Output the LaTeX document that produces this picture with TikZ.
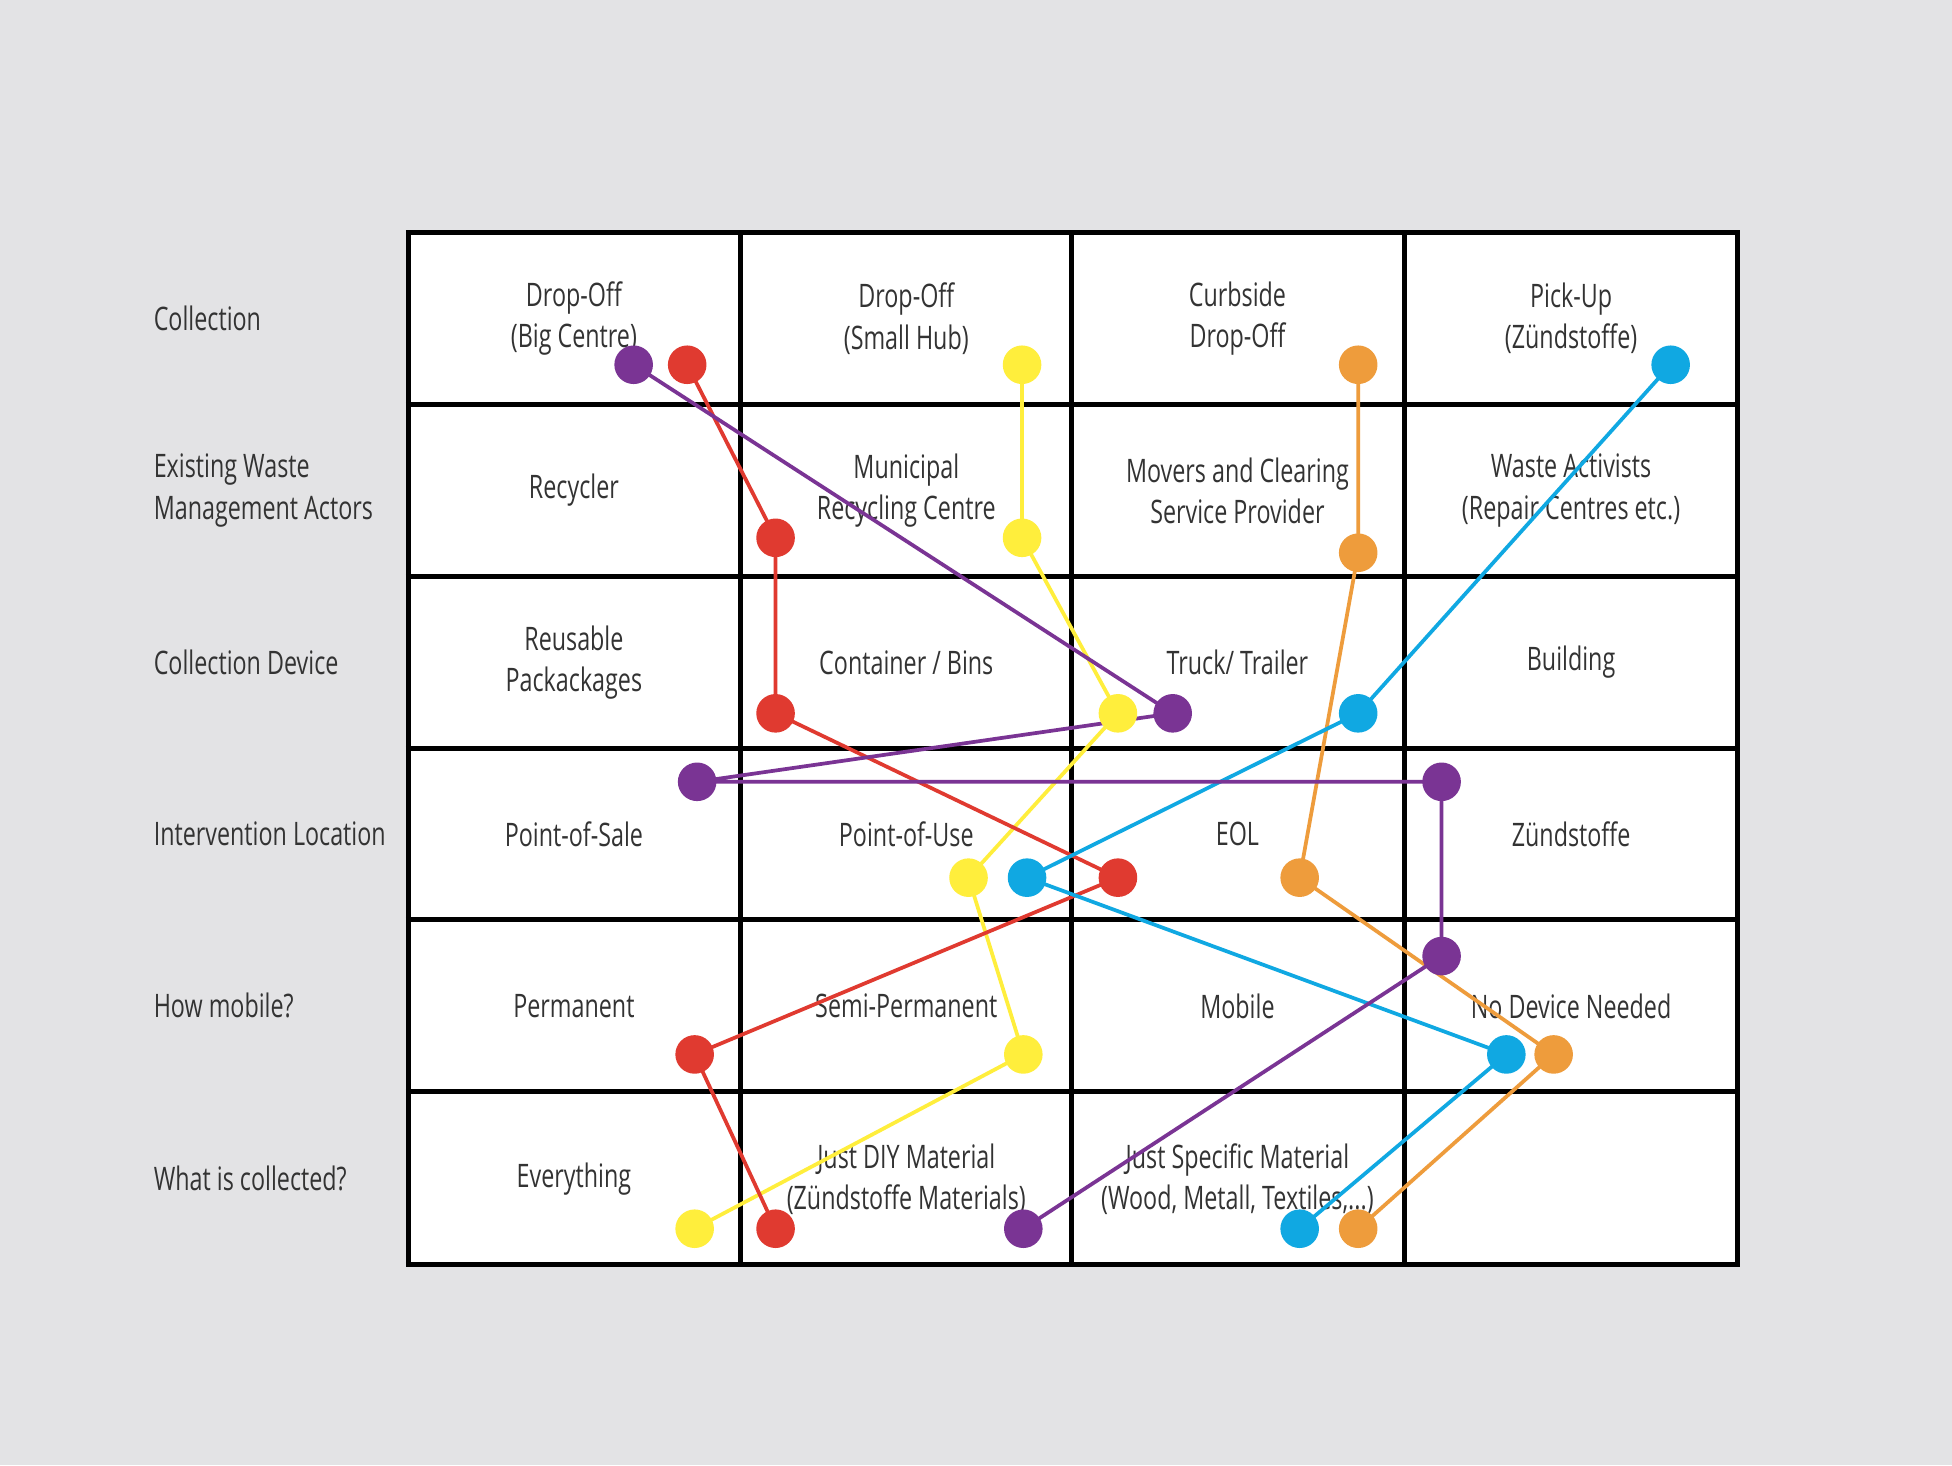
\documentclass[tikz,border=0pt]{standalone}
\usepackage{fontspec}
\setmainfont{Open Sans}[FakeStretch=0.72]
\begin{document}
\begin{tikzpicture}[x=1pt,y=-1pt,
  lbl/.style={font=\fontsize{26}{33}\selectfont, text=black!80, align=center},
  row/.style={lbl, anchor=west, align=left},
  dot/.style={circle, fill=#1, minimum size=31pt, inner sep=0pt},
  con/.style={draw=#1, line width=3pt}]
\definecolor{bg}{HTML}{E3E3E5}
\definecolor{cr}{HTML}{E03A30}
\definecolor{cy}{HTML}{FFEE3C}
\definecolor{co}{HTML}{EE9C3C}
\definecolor{cb}{HTML}{10A8E2}
\definecolor{cp}{HTML}{7A3494}
\fill[bg] (0,0) rectangle (1568,1177);
\useasboundingbox (0,0) rectangle (1568,1177);
\fill[white] (328,187) rectangle (1396,1016);
\foreach \x in {328,595,861,1128,1396} \draw[line width=4pt] (\x,187) -- (\x,1016);
\foreach \y in {187,325,463,601,739,877,1016} \draw[line width=4pt] (326,\y) -- (1398,\y);
% row labels
\node[row] (l1) at (120,256) {Collection};
\node[row] (l2) at (120,394) {Existing Waste\\Management Actors};
\node[row] (l3) at (120,532) {Collection Device};
\node[row] (l4) at (120,670) {Intervention Location};
\node[row] (l5) at (120,808) {How mobile?};
\node[row] (l6) at (120,947) {What is collected?};
% cells
\node[lbl] (a1) at (461,256) {Drop-Off\\(Big Centre)};
\node[lbl] (a2) at (728,256) {Drop-Off\\(Small Hub)};
\node[lbl] (a3) at (994,256) {Curbside\\Drop-Off};
\node[lbl] (a4) at (1262,256) {Pick-Up\\(Zündstoffe)};
\node[lbl] (b1) at (461,394) {Recycler};
\node[lbl] (b2) at (728,394) {Municipal\\Recycling Centre};
\node[lbl] (b3) at (994,394) {Movers and Clearing\\Service Provider};
\node[lbl] (b4) at (1262,394) {Waste Activists\\(Repair Centres etc.)};
\node[lbl] (c1) at (461,532) {Reusable\\Packackages};
\node[lbl] (c2) at (728,532) {Container / Bins};
\node[lbl] (c3) at (994,532) {Truck/ Trailer};
\node[lbl] (c4) at (1262,532) {Building};
\node[lbl] (d1) at (461,670) {Point-of-Sale};
\node[lbl] (d2) at (728,670) {Point-of-Use};
\node[lbl] (d3) at (994,670) {EOL};
\node[lbl] (d4) at (1262,670) {Zündstoffe};
\node[lbl] (e1) at (461,808) {Permanent};
\node[lbl] (e2) at (728,808) {Semi-Permanent};
\node[lbl] (e3) at (994,808) {Mobile};
\node[lbl] (e4) at (1262,808) {No Device Needed};
\node[lbl] (f1) at (461,947) {Everything};
\node[lbl] (f2) at (728,947) {Just DIY Material\\(Zündstoffe Materials)};
\node[lbl] (f3) at (994,947) {Just Specific Material\\(Wood, Metall, Textiles,...)};
% coordinates of dots
\coordinate (p1) at (509,293); \coordinate (p2) at (942,573); \coordinate (p3) at (560,628);
\coordinate (p4) at (1158,628); \coordinate (p5) at (1158,768); \coordinate (p6) at (822,987);
\coordinate (r1) at (552,293); \coordinate (r2) at (623,432); \coordinate (r3) at (623,573);
\coordinate (r4) at (898,705); \coordinate (r5) at (558,847); \coordinate (r6) at (623,987);
\coordinate (y1) at (821,293); \coordinate (y2) at (821,432); \coordinate (y3) at (898,573);
\coordinate (y4) at (778,705); \coordinate (y5) at (822,847); \coordinate (y6) at (558,987);
\coordinate (o1) at (1091,293); \coordinate (o2) at (1091,444); \coordinate (o3) at (1044,705);
\coordinate (o4) at (1248,847); \coordinate (o5) at (1091,987);
\coordinate (u1) at (1342,293); \coordinate (u2) at (1091,573); \coordinate (u3) at (825,705);
\coordinate (u4) at (1210,847); \coordinate (u5) at (1044,987);
% connectors
\draw[con=cy] (y1)--(y2)--(y3)--(y4)--(y5)--(y6);
\draw[con=cr] (r1)--(r2)--(r3)--(r4)--(r5)--(r6);
\draw[con=co] (o1)--(o2)--(o3)--(o4)--(o5);
\draw[con=cb] (u1)--(u2)--(u3)--(u4)--(u5);
\draw[con=cp] (p1)--(p2)--(p3)--(p4)--(p5)--(p6);
% dots
\foreach \n in {y1,y2,y3,y4,y5,y6} \node[dot=cy] at (\n) {};
\foreach \n in {r1,r2,r3,r4,r5,r6} \node[dot=cr] at (\n) {};
\foreach \n in {o1,o2,o3,o4,o5} \node[dot=co] at (\n) {};
\foreach \n in {u1,u2,u3,u4,u5} \node[dot=cb] at (\n) {};
\foreach \n in {p1,p2,p3,p4,p5,p6} \node[dot=cp] at (\n) {};
\end{tikzpicture}
\end{document}
